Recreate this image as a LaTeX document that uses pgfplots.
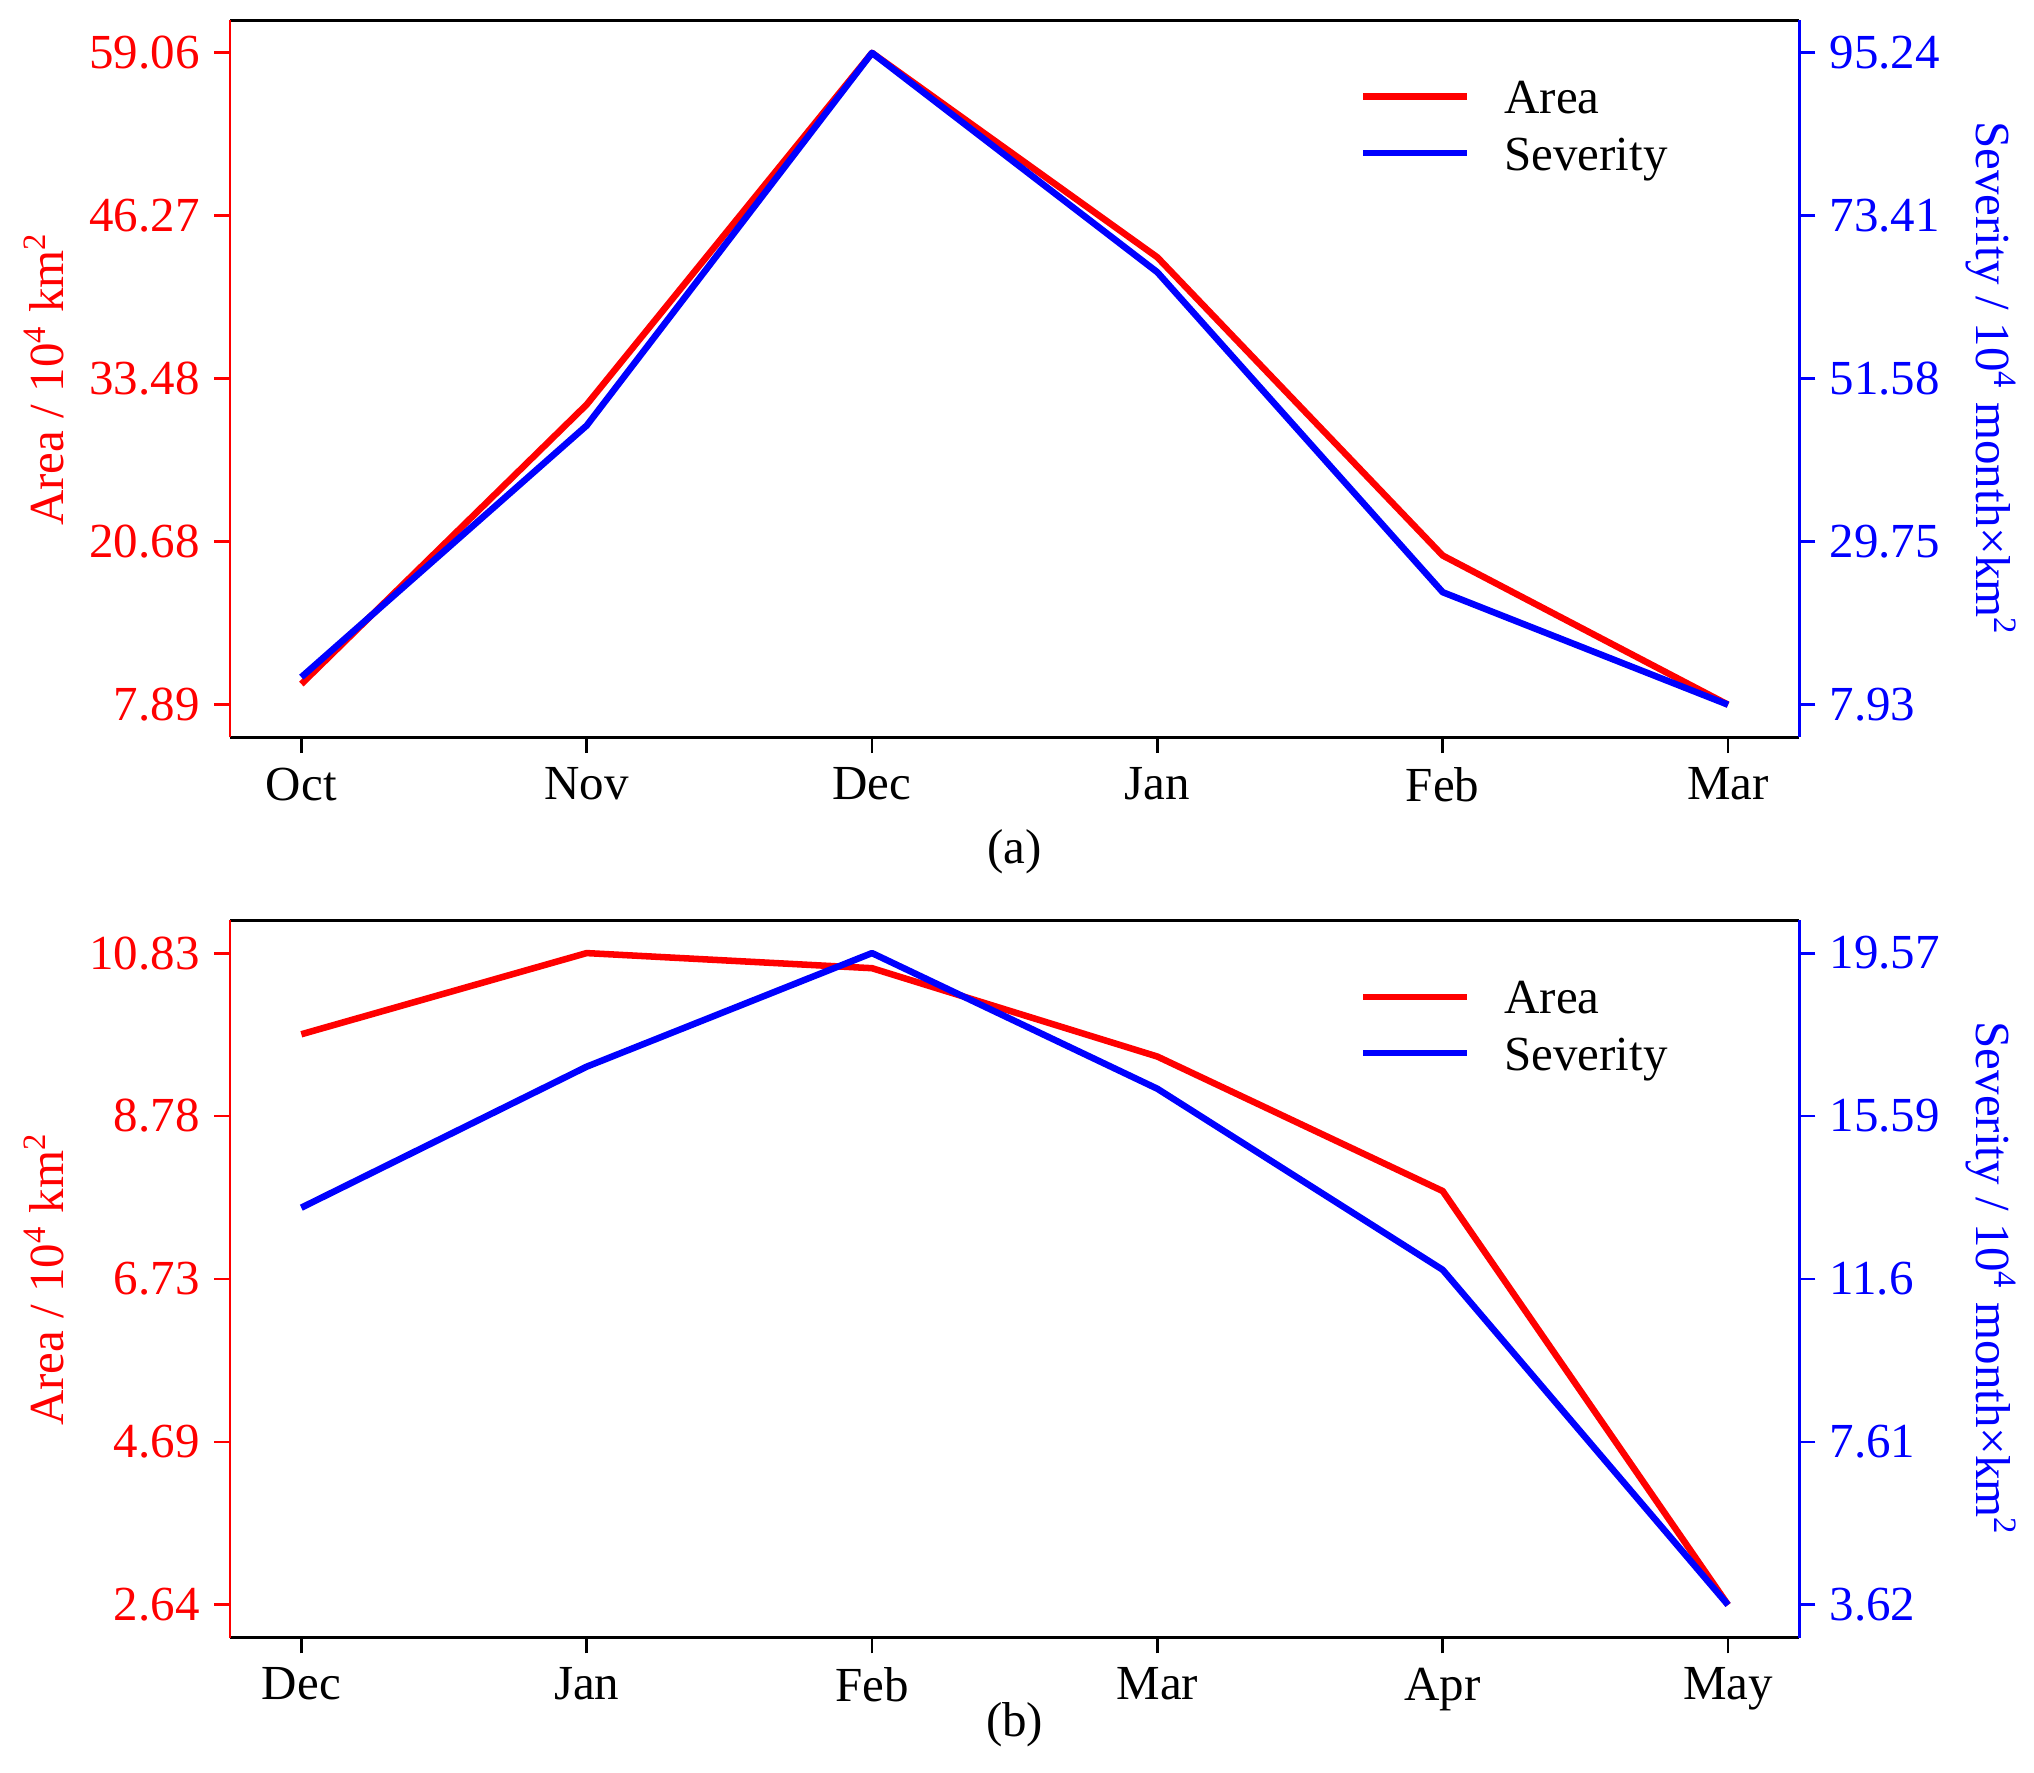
\documentclass[border=0pt]{standalone}
\usepackage{pgfplots}
\pgfplotsset{compat=1.18}
\usepackage{fontspec}
\setmainfont{Liberation Serif}

\pgfplotsset{
  base/.style={
    scale only axis, width=384.5pt, height=175.67pt,
    xmin=-0.25, xmax=5.25,
    tick align=outside,
    major tick length=3.9pt,
    every tick/.append style={line width=0.7pt},
    axis line style={line width=0.7pt},
    font=\fontsize{12}{14.4}\selectfont,
    /pgf/number format/assume math mode=true,
  },
  leftax/.style={
    base,
    axis x line*=box, axis y line*=left,
    xtick pos=bottom,
    xtick={0,1,2,3,4,5},
    x tick style={black},
    y axis line style={red},
    y tick style={red},
    yticklabel style={red},
    ylabel style={red, at={(rel axis cs:-0.1185,0.5)}, anchor=center},
    xlabel style={black, at={(rel axis cs:0.5,-0.1593)}, anchor=center},
  },
  rightax/.style={
    base,
    axis x line=none, axis y line*=right,
    xtick=\empty,
    y axis line style={blue},
    y tick style={blue},
    yticklabel style={blue},
    ylabel style={blue, at={(rel axis cs:1.1221,0.5)}, anchor=center, rotate=180},
    legend style={draw=none, fill=none, inner sep=0pt,
      at={(rel axis cs:0.7195,0.8475)}, anchor=west,
      row sep=2.6pt,
      nodes={inner sep=0pt, text height=8.6pt, text depth=2.6pt, anchor=base west},
      font=\fontsize{12}{14.4}\selectfont},
    legend cell align=left,
    legend image code/.code={
      \path[draw=none,fill=none] (0pt,-2.6pt) rectangle (34.6pt,8.6pt);
      \draw[##1] (0pt,4.2pt) -- (25.4pt,4.2pt);
    },
  },
  redline/.style={red, line width=1.6pt, line join=round},
  blueline/.style={blue, line width=1.6pt, line join=round},
}

\begin{document}
\begin{tikzpicture}
\path[use as bounding box] (0pt,0pt) rectangle (498.33pt,434.14pt);

% ---------- panel (a) ----------
\begin{axis}[leftax,
  at={(56.35pt,253.5pt)}, anchor=south west,
  ymin=5.3315, ymax=61.6185,
  ytick={7.89,20.6825,33.475,46.2675,59.06},
  yticklabels={7.89,20.68,33.48,46.27,59.06},
  xticklabels={Oct,Nov,Dec,Jan,Feb,Mar},
  ylabel={Area / 10\textsuperscript{4} km\textsuperscript{2}},
  xlabel={(a)},
]
\addplot[redline] coordinates {(0,9.51) (1,31.45) (2,59.06) (3,43.01) (4,19.60) (5,7.89)};
\end{axis}
\begin{axis}[rightax,
  at={(56.35pt,253.5pt)}, anchor=south west,
  ymin=3.5645, ymax=99.6055,
  ytick={7.93,29.7575,51.585,73.4125,95.24},
  yticklabels={7.93,29.75,51.58,73.41,95.24},
  ylabel={Severity / 10\textsuperscript{4} month×km\textsuperscript{2}},
]
\addlegendimage{redline}
\addlegendentry{Area}
\addplot[blueline] coordinates {(0,11.62) (1,45.32) (2,95.24) (3,65.86) (4,23.0) (5,7.93)};
\addlegendentry{Severity}
\end{axis}

% ---------- panel (b) ----------
\begin{axis}[leftax,
  at={(56.35pt,32.95pt)}, anchor=south west,
  ymin=2.2305, ymax=11.2395,
  ytick={2.64,4.6875,6.735,8.7825,10.83},
  yticklabels={2.64,4.69,6.73,8.78,10.83},
  xticklabels={Dec,Jan,Feb,Mar,Apr,May},
  ylabel={Area / 10\textsuperscript{4} km\textsuperscript{2}},
  xlabel={(b)},
  xlabel style={at={(rel axis cs:0.5,-0.1217)}},
]
\addplot[redline] coordinates {(0,9.81) (1,10.83) (2,10.64) (3,9.53) (4,7.84) (5,2.64)};
\end{axis}
\begin{axis}[rightax,
  at={(56.35pt,32.95pt)}, anchor=south west,
  ymin=2.8225, ymax=20.3675,
  ytick={3.62,7.6075,11.595,15.5825,19.57},
  yticklabels={3.62,7.61,11.6,15.59,19.57},
  ylabel={Severity / 10\textsuperscript{4} month×km\textsuperscript{2}},
]
\addlegendimage{redline}
\addlegendentry{Area}
\addplot[blueline] coordinates {(0,13.34) (1,16.79) (2,19.57) (3,16.25) (4,11.82) (5,3.62)};
\addlegendentry{Severity}
\end{axis}
\end{tikzpicture}
\end{document}
